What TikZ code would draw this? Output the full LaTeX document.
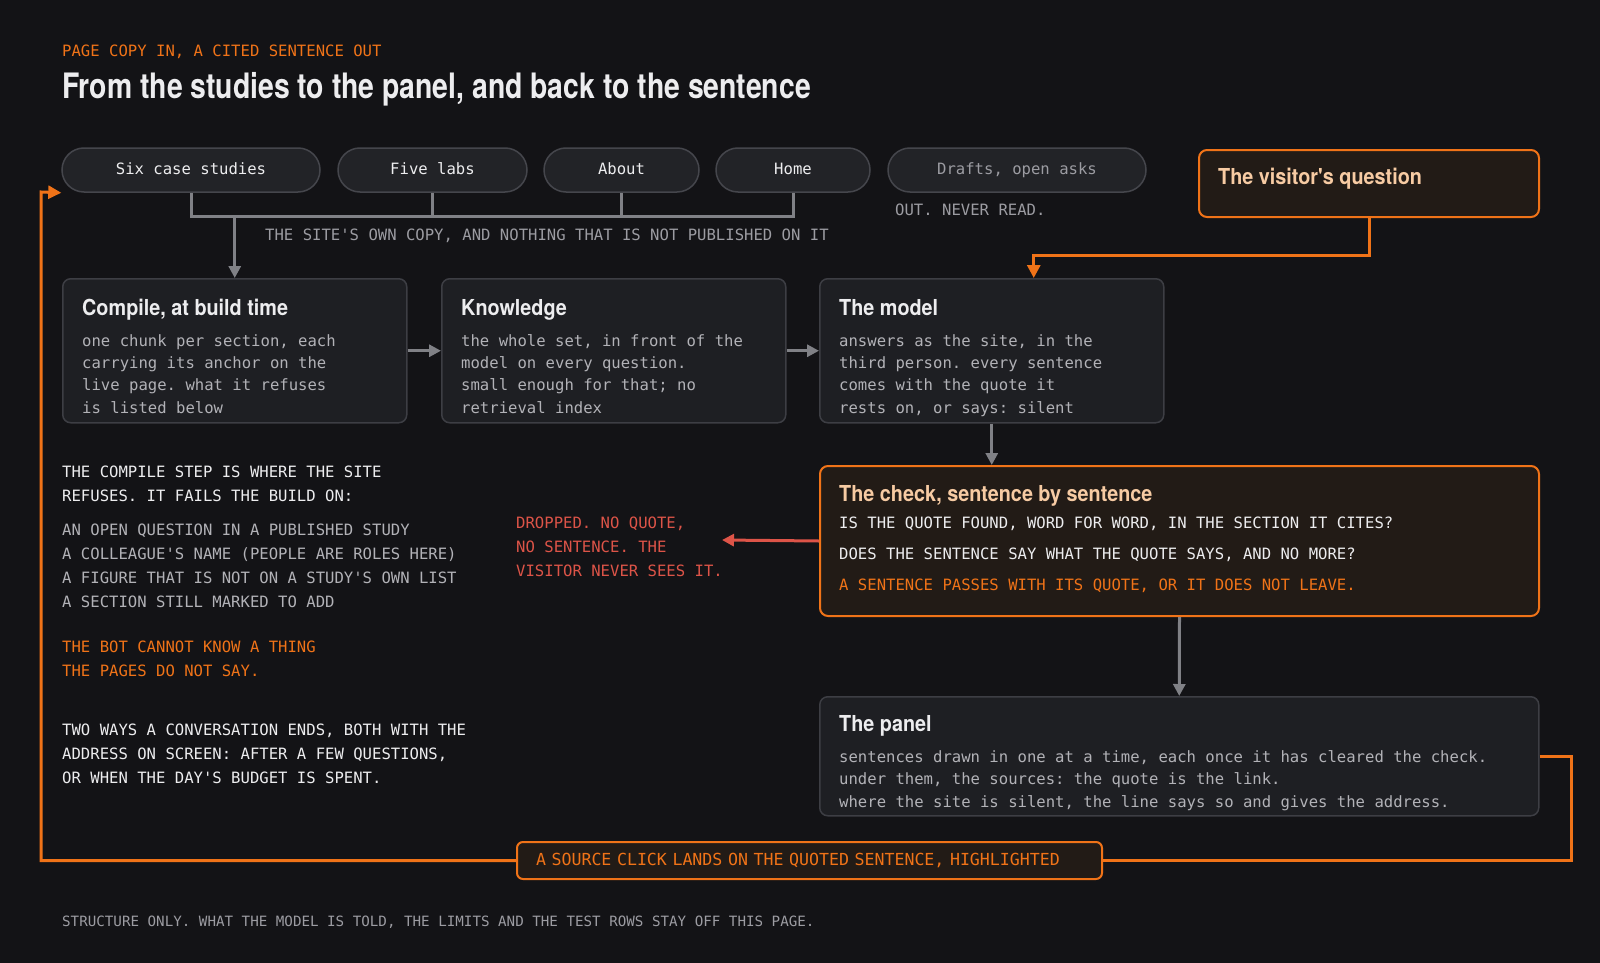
\documentclass[tikz,border=0pt]{standalone}
\usepackage{fontspec}
\setmonofont{DejaVu Sans Mono}
\newfontfamily\headfont[FakeStretch=0.81]{TeX Gyre Heros}
\newfontfamily\cardfont[FakeStretch=0.9]{TeX Gyre Heros}
\usetikzlibrary{arrows.meta}

\definecolor{bg}{HTML}{131316}
\definecolor{cardfill}{HTML}{1E1F23}
\definecolor{cardline}{HTML}{3D3E44}
\definecolor{pillfill}{HTML}{222327}
\definecolor{pilline}{HTML}{45464C}
\definecolor{hot}{HTML}{F07318}
\definecolor{hotfill}{HTML}{221B16}
\definecolor{peach}{HTML}{F7CBA3}
\definecolor{warn}{HTML}{DD5448}
\definecolor{wiregray}{HTML}{808186}
\definecolor{ink}{HTML}{EDEDEF}
\definecolor{soft}{HTML}{B2B2B7}
\definecolor{dim}{HTML}{9C9CA2}

\begin{document}
\begin{tikzpicture}[x=1pt,y=-1pt,
    card/.style={draw=cardline, fill=cardfill, line width=1.5pt, rounded corners=8pt,
      anchor=north west, inner sep=0pt},
    hotcard/.style={card, draw=hot, fill=hotfill, line width=2pt},
    pill/.style={draw=pilline, fill=pillfill, line width=1.5pt, rounded corners=22pt,
      minimum height=44pt, inner sep=0pt, text height=11pt, text depth=3pt, text=ink,
      font=\ttfamily\fontsize{15.6}{18}\selectfont},
    cardtitle/.style={anchor=base west, inner sep=0pt, text=ink,
      font=\cardfont\bfseries\fontsize{22}{26}\selectfont},
    mono/.style={anchor=base west, inner sep=0pt, font=\ttfamily\fontsize{15.6}{18}\selectfont},
    body/.style={mono, text=soft},
    rail/.style={draw=wiregray, line width=3pt},
    link/.style={rail, -{Triangle[length=12pt,width=12pt]}},
    hotline/.style={draw=hot, line width=3pt},
    hotlink/.style={hotline, -{Triangle[length=13pt,width=13pt]}},
    warnlink/.style={draw=warn, line width=3pt, -{Triangle[length=12pt,width=12pt]}}]

  \useasboundingbox (0,0) rectangle (1600,963);
  \fill[bg] (0,0) rectangle (1600,963);

  % heading
  \node[mono, text=hot] (kicker) at (62,57) {PAGE COPY IN, A CITED SENTENCE OUT};
  \node[anchor=base west, inner sep=0pt, text=ink,
    font=\headfont\bfseries\fontsize{35}{40}\selectfont] (heading) at (62,99)
    {From the studies to the panel, and back to the sentence};

  % pages of the site
  \node[pill, minimum width=258pt] (six) at (191,170) {Six case studies};
  \node[pill, minimum width=189pt] (labs) at (432.5,170) {Five labs};
  \node[pill, minimum width=155pt] (about) at (621.5,170) {About};
  \node[pill, minimum width=154pt] (home) at (793,170) {Home};
  \node[pill, minimum width=258pt, text=dim] (drafts) at (1017,170) {Drafts, open asks};
  \node[mono, text=dim] (never) at (895,215) {OUT. NEVER READ.};

  \node[hotcard, minimum width=340pt, minimum height=67pt] (visitor) at (1198,149) {};
  \node[cardtitle, text=peach] (visitor-title) at ([shift={(20,35)}]visitor.north west)
    {The visitor's question};

  % the pipeline
  \node[card, minimum width=344pt, minimum height=144pt] (compile) at (62,278) {};
  \node[card, minimum width=344pt, minimum height=144pt] (knowledge) at (441,278) {};
  \node[card, minimum width=344pt, minimum height=144pt] (model) at (819,278) {};
  \node[hotcard, minimum width=719pt, minimum height=150pt] (check) at (819,465) {};
  \node[card, minimum width=719pt, minimum height=119pt] (panel) at (819,696) {};

  \node[cardtitle] (compile-title) at ([shift={(20,37)}]compile.north west) {Compile, at build time};
  \foreach \row [count=\i from 0] in {{one chunk per section, each},{carrying its anchor on the},
      {live page. what it refuses},{is listed below}}
    \node[body] (compile-\i) at ([shift={(20,68+22.4*\i)}]compile.north west) {\row};

  \node[cardtitle] (knowledge-title) at ([shift={(20,37)}]knowledge.north west) {Knowledge};
  \foreach \row [count=\i from 0] in {{the whole set, in front of the},{model on every question.},
      {small enough for that; no},{retrieval index}}
    \node[body] (knowledge-\i) at ([shift={(20,68+22.4*\i)}]knowledge.north west) {\row};

  \node[cardtitle] (model-title) at ([shift={(20,37)}]model.north west) {The model};
  \foreach \row [count=\i from 0] in {{answers as the site, in the},{third person. every sentence},
      {comes with the quote it},{rests on, or says: silent}}
    \node[body] (model-\i) at ([shift={(20,68+22.4*\i)}]model.north west) {\row};

  \node[cardtitle, text=peach] (check-title) at ([shift={(20,36)}]check.north west)
    {The check, sentence by sentence};
  \node[mono, text=ink] (check-0) at ([shift={(20,63.5)}]check.north west)
    {IS THE QUOTE FOUND, WORD FOR WORD, IN THE SECTION IT CITES?};
  \node[mono, text=ink] (check-1) at ([shift={(20,94)}]check.north west)
    {DOES THE SENTENCE SAY WHAT THE QUOTE SAYS, AND NO MORE?};
  \node[mono, text=hot] (check-2) at ([shift={(20,125)}]check.north west)
    {A SENTENCE PASSES WITH ITS QUOTE, OR IT DOES NOT LEAVE.};

  \node[cardtitle] (panel-title) at ([shift={(20,35.5)}]panel.north west) {The panel};
  \foreach \row [count=\i from 0] in {{sentences drawn in one at a time, each once it has cleared the check.},
      {under them, the sources: the quote is the link.},
      {where the site is silent, the line says so and gives the address.}}
    \node[body] (panel-\i) at ([shift={(20,66+22.6*\i)}]panel.north west) {\row};

  \node[draw=hot, fill=hotfill, line width=2pt, rounded corners=6pt, anchor=west,
    text width=547pt, inner xsep=19pt, minimum height=37pt, text=hot,
    font=\ttfamily\fontsize{16.6}{19}\selectfont] (click) at (516,860.5)
    {A SOURCE CLICK LANDS ON THE QUOTED SENTENCE, HIGHLIGHTED};

  % connectors
  \coordinate (bar) at (0,216);
  \draw[rail] (six.south) -- (six.south |- bar) -- (home.south |- bar) -- (home.south);
  \draw[rail] (labs.south) -- (labs.south |- bar);
  \draw[rail] (about.south) -- (about.south |- bar);
  \draw[link] (compile.north |- bar) -- (compile.north);
  \node[mono, text=dim] (own-copy) at (265,240)
    {THE SITE'S OWN COPY, AND NOTHING THAT IS NOT PUBLISHED ON IT};

  \draw[link] (compile.east) -- (knowledge.west);
  \draw[link] (knowledge.east) -- (model.west);
  \draw[link] (model.south) -- (model.south |- check.north);
  \draw[link] (check.south) -- (panel.north);
  \draw[hotlink] (visitor.south) -- ++(0,37) -| ([xshift=42pt]model.north);

  \coordinate (dropped) at (722,540);
  \draw[warnlink] (check.west) -- (dropped);
  \foreach \row [count=\i from 0] in {{DROPPED. NO QUOTE,},{NO SENTENCE. THE},{VISITOR NEVER SEES IT.}}
    \node[mono, text=warn] (dropped-\i) at (516,528.5+24*\i) {\row};

  \coordinate (back) at (41,192);
  \draw[hotline] (panel.east) -- ++(32,0) |- (click.east);
  \draw[hotlink] (click.west) -| (back) -- (six.south west);

  % notes on the left
  \foreach \row [count=\i from 0] in {{THE COMPILE STEP IS WHERE THE SITE},{REFUSES. IT FAILS THE BUILD ON:}}
    \node[mono, text=ink] (refuse-\i) at (62,477+24*\i) {\row};
  \foreach \row [count=\i from 0] in {{AN OPEN QUESTION IN A PUBLISHED STUDY},
      {A COLLEAGUE'S NAME (PEOPLE ARE ROLES HERE)},
      {A FIGURE THAT IS NOT ON A STUDY'S OWN LIST},{A SECTION STILL MARKED TO ADD}}
    \node[mono, text=soft] (fail-\i) at (62,535+24*\i) {\row};
  \foreach \row [count=\i from 0] in {{THE BOT CANNOT KNOW A THING},{THE PAGES DO NOT SAY.}}
    \node[mono, text=hot] (rule-\i) at (62,652+24*\i) {\row};
  \foreach \row [count=\i from 0] in {{TWO WAYS A CONVERSATION ENDS, BOTH WITH THE},
      {ADDRESS ON SCREEN: AFTER A FEW QUESTIONS,},{OR WHEN THE DAY'S BUDGET IS SPENT.}}
    \node[mono, text=ink] (ends-\i) at (62,735+24*\i) {\row};

  \node[anchor=base west, inner sep=0pt, text=dim,
    font=\ttfamily\fontsize{14.2}{17}\selectfont] (footer) at (62,926.5)
    {STRUCTURE ONLY. WHAT THE MODEL IS TOLD, THE LIMITS AND THE TEST ROWS STAY OFF THIS PAGE.};
\end{tikzpicture}
\end{document}
